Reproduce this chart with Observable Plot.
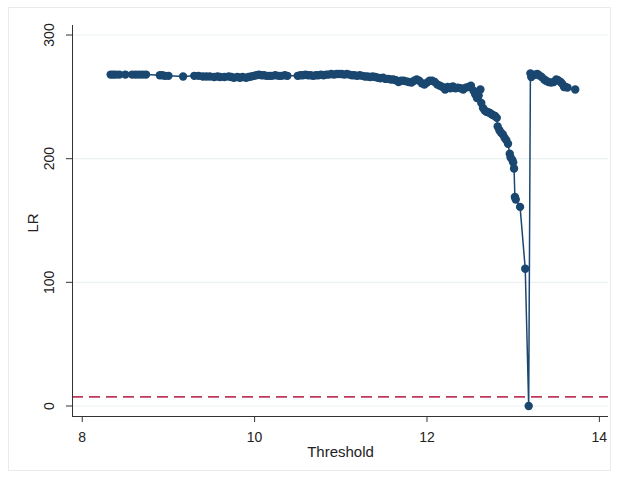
<!DOCTYPE html>
<html>
<head>
<meta charset="utf-8">
<script src="https://cdn.jsdelivr.net/npm/d3@7"></script>
<script src="https://cdn.jsdelivr.net/npm/@observablehq/plot@0.6"></script>
<style>
  html, body { margin: 0; padding: 0; background: #ffffff; }
  #wrap { position: relative; width: 619px; height: 479px; overflow: hidden; }
  #frame { position: absolute; left: 8px; top: 7px; width: 603px; height: 464px; border: 1px solid #e9ecec; box-sizing: border-box; pointer-events: none; }
  #chart { position: absolute; left: 0; top: 0; }
</style>
</head>
<body>
<div id="wrap"><div id="chart"></div><div id="frame"></div></div>
<script>
const threshold = [
  8.33,8.36,8.39,8.43,8.50,8.58,8.62,8.66,8.70,8.74,8.90,8.93,8.96,9.00,9.17,
  9.30,9.35,9.40,9.44,9.48,9.53,9.57,9.60,9.65,9.70,9.73,9.76,9.80,9.83,9.86,
  9.90,9.93,9.96,9.99,10.02,10.05,10.08,10.11,10.14,10.17,10.20,10.24,10.28,10.31,10.35,
  10.38,10.50,10.53,10.56,10.59,10.62,10.65,10.68,10.71,10.74,10.77,10.80,10.83,10.86,
  10.89,10.92,10.95,10.98,11.01,11.04,11.07,11.10,11.13,11.16,11.19,11.22,11.25,11.28,
  11.31,11.34,11.37,11.40,11.43,11.46,11.49,11.52,11.55,11.58,11.61,11.64,11.67,11.70,
  11.73,11.76,11.79,11.82,11.85,11.88,11.91,11.94,11.97,12.00,12.03,12.06,12.09,12.12,
  12.15,12.18,12.21,12.24,12.27,12.30,12.33,12.36,12.39,12.42,12.45,12.48,12.51,12.54,
  12.56,12.58,12.60,12.62,12.63,12.65,12.67,12.69,12.71,12.73,12.75,12.77,12.79,12.81,
  12.82,12.84,12.86,12.88,12.90,12.92,12.94,12.96,12.97,12.99,13.00,13.01,13.02,13.03,
  13.08,13.14,13.18,13.20,13.21,13.23,13.25,13.28,13.30,13.33,13.36,13.38,13.41,13.44,
  13.47,13.50,13.52,13.55,13.57,13.59,13.61,13.63,13.72
];
const lr = [
  268,268,268,268,268,268,268,268,268,268,267.5,267.5,267,267,266.5,
  267,267,266.5,266.5,266.5,266,266.5,266,266,266.5,266,265.5,266,265.5,266,
  265.5,266,266.5,267,267.5,268,267.5,267.5,267,267,267,267.5,267,267,267.5,
  267,267,267.5,267.5,268,267.5,267.5,267,267.5,267.5,268,267.5,268,268,
  268.5,268,268.5,268.5,268.5,268,268.5,268,267.5,267.5,267,267.5,267,266.5,
  266.5,266,266.5,266,265.5,265,265.5,264.5,264.5,264,264,263.5,262,263,
  263,262.5,262,261.5,263,264,263,261,260,261.5,263,263,262,260,
  259,258,256,258,257,258.5,257,257.5,257,256,257.5,258,259,255,
  252,249,251,256,245,241,239,238,237.5,237,236,235,234.5,233,
  226,223,221,219.5,217,215,212,204,201,199,197,192,169,167,
  161,111,0,269,266,267.5,268,268.5,267.5,266,264,263,262,261.5,
  262,264,263.5,262,260.5,258,258,257.5,256
];
const yTicks = [0, 100, 200, 300];
const xTicks = [8, 10, 12, 14];
const critical = [7.35];

const data = threshold.map((t, i) => ({threshold: t, lr: lr[i]}));
const navy = "#1a476f";
const font = "Liberation Sans, Arial, sans-serif";

const chart = Plot.plot({
  width: 619,
  height: 479,
  marginLeft: 72,
  marginRight: 11,
  marginTop: 25,
  marginBottom: 63,
  style: {fontFamily: font, fontSize: "14px", color: "#222", background: "transparent"},
  x: {domain: [7.887, 14.106]},
  y: {domain: [-8.5, 307.7]},
  marks: [
    Plot.ruleY(yTicks, {stroke: "#eaf2f3", strokeWidth: 1.2}),
    Plot.ruleY(critical, {stroke: "#c0395a", strokeWidth: 1.8, strokeDasharray: "11,6"}),
    Plot.line(data, {x: "threshold", y: "lr", stroke: navy, strokeWidth: 1.5}),
    Plot.dot(data, {x: "threshold", y: "lr", r: 4.2, fill: navy, stroke: "none"}),
    Plot.ruleX([7.887], {stroke: "#333", strokeWidth: 1}),
    Plot.ruleY([-8.5], {stroke: "#333", strokeWidth: 1}),
    Plot.axisX({ticks: xTicks, tickFormat: d3.format("d"), tickSize: 6, tickPadding: 10, stroke: "#333", fontSize: 14,
      label: null}),
    Plot.axisY({ticks: yTicks, tickFormat: d3.format("d"), tickSize: 6, tickPadding: 13, tickRotate: -90, stroke: "#333", fontSize: 14,
      label: null}),
    Plot.text(["Threshold"], {frameAnchor: "bottom", dy: 40, fontSize: 15, fill: "#222"}),
    Plot.text(["LR"], {frameAnchor: "left", dx: -39, dy: 2, rotate: -90, textAnchor: "middle", fontSize: 15, fill: "#222"})
  ]
});
document.getElementById("chart").appendChild(chart);
</script>
</body>
</html>
